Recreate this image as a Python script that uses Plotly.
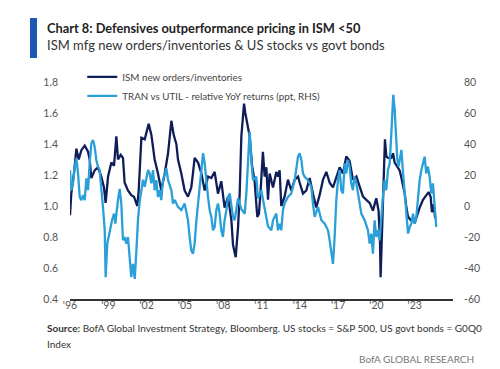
import pandas as pd
import plotly.graph_objects as go

# ---------------- data ----------------
ism_t = [1996.00, 1996.10, 1996.31, 1996.50, 1996.68, 1996.89, 1997.15, 1997.41, 1997.54, 1997.67,
         1997.93, 1998.19, 1998.45, 1998.66, 1998.79, 1998.98, 1999.24, 1999.45, 1999.63, 1999.76,
         1999.97, 2000.15, 2000.28, 2000.54, 2000.80, 2001.01, 2001.14, 2001.27, 2001.38, 2001.59,
         2001.85, 2002.16, 2002.37, 2002.63, 2002.89, 2003.15, 2003.42, 2003.68, 2003.94, 2004.12,
         2004.33, 2004.46, 2004.72, 2004.98, 2005.24, 2005.50, 2005.63, 2005.76, 2006.03, 2006.29,
         2006.55, 2006.81, 2007.07, 2007.33, 2007.59, 2007.85, 2008.11, 2008.38, 2008.64, 2008.77,
         2008.98, 2009.16, 2009.29, 2009.42, 2009.55, 2009.63, 2009.73, 2009.89, 2010.07, 2010.26,
         2010.46, 2010.67, 2010.80, 2010.93, 2011.11, 2011.25, 2011.38, 2011.51, 2011.64, 2011.90,
         2012.16, 2012.29, 2012.42, 2012.55, 2012.81, 2013.07, 2013.33, 2013.60, 2013.86, 2013.99,
         2014.25, 2014.51, 2014.77, 2015.03, 2015.29, 2015.55, 2015.82, 2016.08, 2016.34, 2016.60,
         2016.86, 2017.12, 2017.38, 2017.64, 2017.90, 2018.16, 2018.43, 2018.69, 2018.95, 2019.21,
         2019.47, 2019.73, 2019.99, 2020.17, 2020.28, 2020.33, 2020.44, 2020.59, 2020.67, 2020.78,
         2020.91, 2021.17, 2021.30, 2021.43, 2021.69, 2021.82, 2021.96, 2022.22, 2022.35, 2022.48,
         2022.68, 2022.87, 2023.00, 2023.20, 2023.39, 2023.65, 2023.91, 2024.09, 2024.25, 2024.35,
         2024.48, 2024.61]
ism_v = [0.94, 1.08, 1.21, 1.37, 1.30, 1.36, 1.39, 1.35, 1.30, 1.18,
         1.23, 1.25, 1.19, 1.12, 1.02, 1.19, 1.28, 1.26, 1.45, 1.30,
         1.33, 1.31, 1.15, 1.10, 1.07, 1.06, 1.03, 1.00, 1.10, 1.44,
         1.43, 1.53, 1.46, 1.30, 1.21, 1.10, 1.21, 1.34, 1.55, 1.46,
         1.40, 1.30, 1.21, 1.10, 1.06, 1.12, 1.21, 1.31, 1.28, 1.21,
         1.10, 1.19, 1.18, 1.22, 1.08, 1.16, 0.99, 1.06, 0.91, 0.75,
         0.67, 0.86, 1.08, 1.45, 1.58, 1.66, 1.60, 1.52, 1.45, 1.26,
         1.16, 0.93, 0.95, 1.10, 1.35, 1.19, 1.25, 1.04, 1.21, 1.12,
         1.22, 1.19, 1.23, 1.00, 1.06, 1.17, 1.10, 1.17, 1.19, 1.15,
         1.08, 1.10, 1.18, 1.08, 0.99, 1.07, 1.17, 1.22, 1.15, 1.12,
         1.19, 1.25, 1.21, 1.32, 1.29, 1.17, 1.19, 1.12, 1.06, 1.04,
         1.02, 0.97, 1.05, 0.97, 0.78, 0.54, 0.84, 1.30, 1.43, 1.32,
         1.31, 1.31, 1.34, 1.28, 1.25, 1.23, 1.18, 1.08, 0.99, 0.93,
         0.91, 0.92, 0.89, 0.95, 0.99, 1.04, 1.07, 1.09, 1.06, 0.96,
         1.01, 0.92]

tran_t = [1996.00, 1996.10, 1996.23, 1996.37, 1996.50, 1996.63, 1996.76, 1996.89, 1997.02, 1997.15,
          1997.28, 1997.41, 1997.54, 1997.67, 1997.80, 1997.93, 1998.06, 1998.19, 1998.32, 1998.45,
          1998.58, 1998.72, 1998.79, 1998.92, 1999.11, 1999.29, 1999.45, 1999.55, 1999.76, 1999.89,
          2000.02, 2000.15, 2000.28, 2000.41, 2000.54, 2000.67, 2000.80, 2000.93, 2001.07, 2001.20,
          2001.33, 2001.46, 2001.59, 2001.72, 2001.85, 2001.98, 2002.11, 2002.24, 2002.37, 2002.50,
          2002.63, 2002.76, 2002.89, 2003.02, 2003.15, 2003.28, 2003.42, 2003.55, 2003.68, 2003.94,
          2004.07, 2004.20, 2004.46, 2004.72, 2004.98, 2005.24, 2005.37, 2005.50, 2005.63, 2005.76,
          2005.90, 2006.03, 2006.16, 2006.29, 2006.42, 2006.55, 2006.68, 2006.81, 2006.94, 2007.07,
          2007.20, 2007.33, 2007.46, 2007.59, 2007.72, 2007.85, 2007.98, 2008.11, 2008.25, 2008.38,
          2008.51, 2008.64, 2008.77, 2008.90, 2009.16, 2009.42, 2009.68, 2009.81, 2009.94, 2010.07,
          2010.20, 2010.33, 2010.59, 2010.72, 2010.98, 2011.25, 2011.51, 2011.77, 2011.90, 2012.16,
          2012.29, 2012.42, 2012.55, 2012.68, 2012.81, 2013.07, 2013.33, 2013.60, 2013.73, 2013.86,
          2013.99, 2014.12, 2014.25, 2014.38, 2014.64, 2014.90, 2015.03, 2015.16, 2015.43, 2015.69,
          2015.95, 2016.21, 2016.34, 2016.47, 2016.60, 2016.73, 2016.86, 2016.99, 2017.12, 2017.25,
          2017.38, 2017.51, 2017.64, 2017.77, 2017.90, 2018.03, 2018.16, 2018.29, 2018.43, 2018.56,
          2018.82, 2019.08, 2019.34, 2019.47, 2019.60, 2019.73, 2019.86, 2019.99, 2020.12, 2020.25,
          2020.38, 2020.51, 2020.64, 2020.77, 2020.91, 2021.04, 2021.17, 2021.25, 2021.32, 2021.43,
          2021.51, 2021.64, 2021.74, 2021.85, 2021.96, 2022.09, 2022.22, 2022.35, 2022.48, 2022.61,
          2022.74, 2022.87, 2023.00, 2023.13, 2023.26, 2023.39, 2023.52, 2023.65, 2023.78, 2023.91,
          2024.04, 2024.17, 2024.30, 2024.43, 2024.56, 2024.69]
tran_v = [23.2, 10.2, 14.6, 25.4, 30.8, 21.0, 5.9, 3.8, 7.0, 3.8,
          17.8, 10.2, 27.5, 40.5, 42.6, 38.3, 29.7, 25.4, 23.2, 12.4,
          -0.6, -15.7, -45.9, -24.3, -15.7, -9.2, -4.9, -11.4, 4.0, 11.0,
          1.6, -22.0, -20.0, -24.3, -20.0, -33.0, -45.9, -37.3, -47.0, -28.6,
          -8.0, 3.0, 12.0, 17.0, 12.4, 18.9, 23.2, 21.0, 14.6, 23.2,
          10.2, 16.7, 5.9, 10.2, 3.8, 16.7, 21.0, 24.3, 16.7, 10.2,
          1.6, 3.8, -0.6, -2.7, 1.6, -9.2, -20.0, -28.6, -30.8, -24.3,
          -9.2, 1.6, 14.6, 23.2, 34.0, 27.5, 14.6, 5.9, -2.7, -7.0,
          -15.7, -13.5, -2.7, 1.6, -4.9, -15.7, -20.0, -9.2, -2.7, 5.9,
          8.1, 1.6, -7.0, -9.2, 5.0, -2.0, -5.0, 8.1, 30.0, 48.0,
          30.0, 16.7, 18.9, 5.0, 10.2, -2.0, -13.0, -15.7, -9.2, -4.9,
          -15.7, -11.4, -15.7, -2.7, 1.6, 5.9, 8.1, 16.7, 23.2, 31.8,
          34.0, 29.7, 21.0, 18.9, 16.7, 12.4, 1.6, -7.0, -0.6, -9.2,
          -11.4, -15.7, -22.2, -28.6, -37.3, -20.0, 3.8, 16.7, 23.2, 10.2,
          8.1, 27.5, 21.0, 29.7, 25.4, 14.6, 10.2, 18.9, 14.6, 8.1,
          -4.9, -9.2, -15.7, -24.3, -17.8, -30.8, -9.2, -20.0, -15.7, -22.2,
          -4.9, 5.9, 16.7, 10.2, 23.2, 27.5, 47.0, 66.4, 71.8, 62.1,
          49.1, 29.7, 25.4, 31.8, 36.2, 21.0, 8.1, -0.6, -17.8, -13.5,
          -11.4, -4.9, -11.4, -7.0, 5.9, 16.7, 23.2, 27.5, 31.8, 21.0,
          25.4, 18.9, 8.1, 14.6, -2.7, -13.5]

tick_years = [1996, 1999, 2002, 2005, 2008, 2011, 2014, 2017, 2020, 2023]
tick_labels = ["'96", "'99", "'02", "'05", "'08", "'11", "'14", "'17", "'20", "'23"]
left_ticks = [0.4, 0.6, 0.8, 1.0, 1.2, 1.4, 1.6, 1.8]
right_ticks = [-60, -40, -20, 0, 20, 40, 60, 80]
right_labels = ["-60", "-40", "-20", "0", "20", "40", "60", "80"]


def to_date(y):
    yr = int(y)
    return pd.Timestamp(f"{yr}-01-01") + pd.Timedelta(days=(y - yr) * 365.25)


FONT = "Lato, Roboto, sans-serif"
DARK = "#0f1d58"
CYAN = "#2a9fd8"

fig = go.Figure()
fig.add_trace(go.Scatter(x=[to_date(t) for t in ism_t], y=ism_v, mode="lines",
                         name="ISM new orders/inventories",
                         line=dict(color=DARK, width=2.3)))
fig.add_trace(go.Scatter(x=[to_date(t) for t in tran_t], y=tran_v, mode="lines",
                         name="TRAN vs UTIL - relative YoY returns (ppt, RHS)",
                         line=dict(color=CYAN, width=2.3), yaxis="y2"))

fig.update_layout(
    template="none",
    width=500, height=369,
    margin=dict(l=62, r=55, t=74, b=78, autoexpand=False),
    paper_bgcolor="white", plot_bgcolor="white",
    font=dict(family=FONT, size=10.5, color="#444"),
    showlegend=True,
    legend=dict(x=0.032, y=1.09, xanchor="left", yanchor="top",
                bgcolor="rgba(0,0,0,0)", font=dict(size=9.8, color="#444"),
                tracegroupgap=0, itemwidth=30),
    xaxis=dict(type="date", range=[to_date(1996.0), to_date(2026.0)],
               tickvals=[pd.Timestamp(f"{y}-01-01") for y in tick_years],
               ticktext=tick_labels, showgrid=False, zeroline=False,
               showline=True, linecolor="#333", linewidth=2, automargin=False,
               ticks="", ticklabelstandoff=-5, tickfont=dict(size=10.5, color="#555")),
    yaxis=dict(range=[0.4, 1.8], tickvals=left_ticks,
               ticktext=[f"{v:.1f}" for v in left_ticks], automargin=False,
               showgrid=False, zeroline=False, showline=False, ticks="",
               ticklabelstandoff=11, tickfont=dict(size=10.5, color="#555")),
    yaxis2=dict(range=[-60, 80], tickvals=right_ticks, ticktext=right_labels,
                overlaying="y", side="right", showgrid=False, zeroline=False,
                showline=False, ticks="", ticklabelstandoff=10, automargin=False,
                tickfont=dict(size=10.5, color="#555")),
)


def px_x(p):
    return (p - 62) / 383.0


def px_y(p):
    return (291 - p) / 217.0


fig.add_shape(type="rect", xref="paper", yref="paper",
              x0=px_x(22), x1=px_x(29), y0=px_y(50), y1=px_y(10),
              fillcolor="#1b57b3", line=dict(width=0))

fig.add_annotation(xref="paper", yref="paper", x=px_x(37), y=px_y(20),
                   xanchor="left", yanchor="middle", showarrow=False,
                   text="<b>Chart 8: Defensives outperformance pricing in ISM <50</b>",
                   font=dict(family=FONT, size=12.8, color="#222"))
fig.add_annotation(xref="paper", yref="paper", x=px_x(37), y=px_y(37),
                   xanchor="left", yanchor="middle", showarrow=False,
                   text="ISM mfg new orders/inventories & US stocks vs govt bonds",
                   font=dict(family=FONT, size=13, color="#333"))
fig.add_annotation(xref="paper", yref="paper", x=px_x(37), y=px_y(320),
                   xanchor="left", yanchor="middle", showarrow=False, align="left",
                   text="<b>Source:</b> BofA Global Investment Strategy, Bloomberg. US stocks = S&P 500, US govt bonds = G0Q0",
                   font=dict(family=FONT, size=10, color="#333"))
fig.add_annotation(xref="paper", yref="paper", x=px_x(37), y=px_y(336),
                   xanchor="left", yanchor="middle", showarrow=False, align="left",
                   text="Index",
                   font=dict(family=FONT, size=10, color="#333"))
fig.add_annotation(xref="paper", yref="paper", x=px_x(468), y=px_y(351),
                   xanchor="right", yanchor="middle", showarrow=False,
                   text="BofA GLOBAL RESEARCH",
                   font=dict(family=FONT, size=10, color="#777"))

fig.write_html("out.html")
